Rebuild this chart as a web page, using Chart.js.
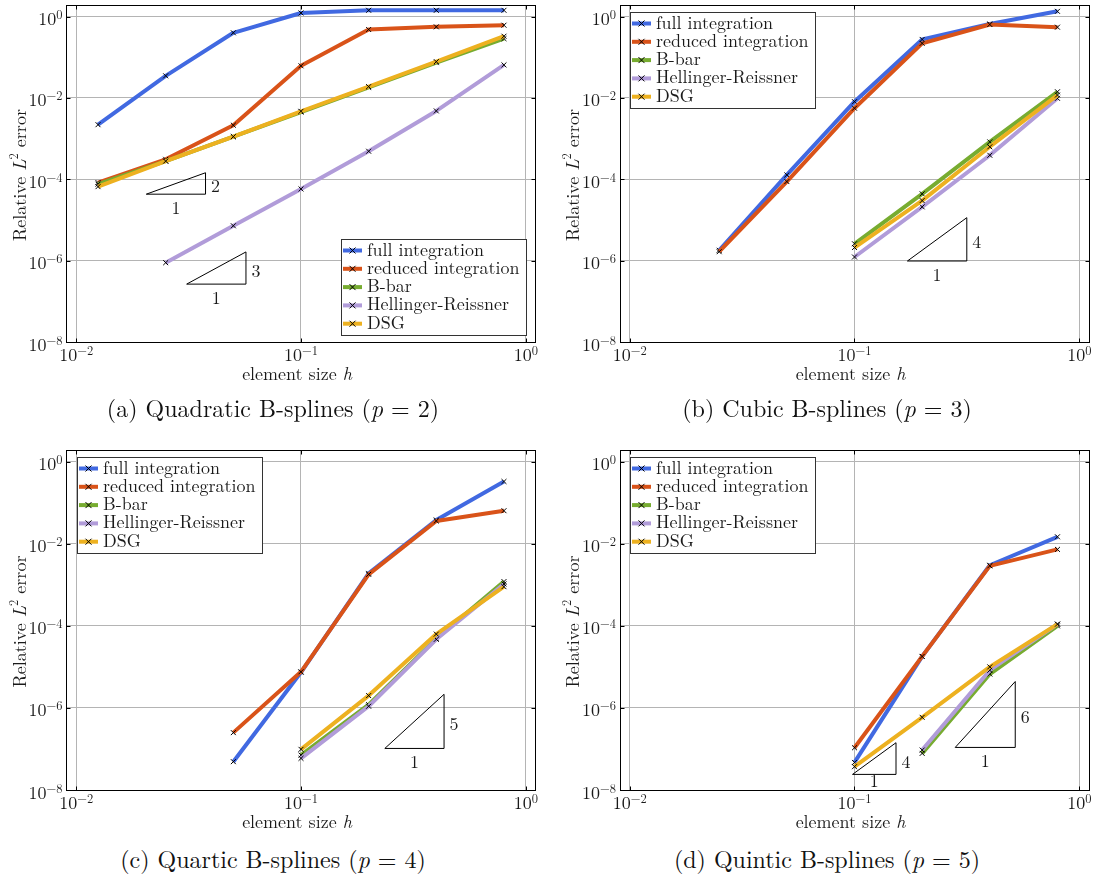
<!DOCTYPE html>
<html>
<head>
<meta charset="utf-8">
<script src="https://cdn.jsdelivr.net/npm/chart.js@4.4.0/dist/chart.umd.min.js"></script>
<style>
  body { margin: 0; background: #fff; width: 1101px; height: 877px; position: relative; overflow: hidden; font-family: "Latin Modern Roman", "Liberation Serif", serif; }
  canvas { position: absolute; }
  .cap { position: absolute; font-size: 24px; line-height: 24px; white-space: nowrap; transform: translateX(-50%); color: #111; }
</style>
</head>
<body>
<canvas id="pa" width="550" height="392" style="left:0;top:0"></canvas>
<canvas id="pb" width="551" height="392" style="left:550px;top:0"></canvas>
<canvas id="pc" width="550" height="400" style="left:0;top:440px"></canvas>
<canvas id="pd" width="551" height="400" style="left:550px;top:440px"></canvas>
<div class="cap" style="left:273px;top:395px">(a) Quadratic B-splines (<i>p</i> = 2)</div>
<div class="cap" style="left:827px;top:395px">(b) Cubic B-splines (<i>p</i> = 3)</div>
<div class="cap" style="left:273px;top:846px">(c) Quartic B-splines (<i>p</i> = 4)</div>
<div class="cap" style="left:827px;top:846px">(d) Quintic B-splines (<i>p</i> = 5)</div>
<script>
// axes
const X_TICKS = [0.01, 0.1, 1];
const Y_TICKS = [1, 1e-2, 1e-4, 1e-6, 1e-8];
const X_MIN = 0.00905, X_MAX = 1.105, Y_MIN = 1e-8, Y_MAX = 1.93;

const SERIES = ["full integration", "reduced integration", "B-bar", "Hellinger-Reissner", "DSG"];
const COLORS = ["#4169E1", "#D95319", "#77AC30", "#B19CD9", "#EDB120"];

// (a) quadratic
const hA = [0.0125, 0.025, 0.05, 0.1, 0.2, 0.4, 0.8];
const fullA = [2.2e-3, 0.035, 0.40, 1.23, 1.43, 1.43, 1.43];
const redA = [8.3e-5, 3.1e-4, 2.14e-3, 0.0617, 0.482, 0.56, 0.615];
const bbarA = [7.6e-5, 2.8e-4, 1.12e-3, 4.5e-3, 0.0182, 0.074, 0.288];
const hrA = [null, 8.9e-7, 7.2e-6, 5.8e-5, 4.9e-4, 4.8e-3, 0.065];
const dsgA = [6.6e-5, 2.8e-4, 1.12e-3, 4.7e-3, 0.019, 0.078, 0.33];

// (b) cubic
const hB = [0.025, 0.05, 0.1, 0.2, 0.4, 0.8];
const fullB = [1.8e-6, 1.28e-4, 8.1e-3, 0.275, 0.66, 1.35];
const redB = [1.66e-6, 8.8e-5, 5.6e-3, 0.22, 0.64, 0.55];
const bbarB = [null, null, 2.6e-6, 4.4e-5, 8.3e-4, 0.0142];
const hrB = [null, null, 1.23e-6, 2.1e-5, 3.9e-4, 9.8e-3];
const dsgB = [null, null, 2.1e-6, 3.0e-5, 6.3e-4, 0.0118];

// (c) quartic
const hC = [0.05, 0.1, 0.2, 0.4, 0.8];
const fullC = [4.9e-8, 7.4e-6, 1.9e-3, 0.038, 0.33];
const redC = [2.5e-7, 7.6e-6, 1.8e-3, 0.036, 0.064];
const bbarC = [null, 7.1e-8, 1.2e-6, 4.9e-5, 1.2e-3];
const hrC = [null, 5.9e-8, 1.1e-6, 4.7e-5, 1.05e-3];
const dsgC = [null, 9.8e-8, 2.0e-6, 6.3e-5, 9e-4];

// (d) quintic
const hD = [0.1, 0.2, 0.4, 0.8];
const fullD = [4.7e-8, 1.8e-5, 3.0e-3, 0.0148];
const redD = [1.07e-7, 1.8e-5, 2.9e-3, 7.3e-3];
const bbarD = [null, 7.8e-8, 6.7e-6, 1.0e-4];
const hrD = [null, 9.4e-8, 8.3e-6, 1.1e-4];
const dsgD = [3.7e-8, 5.9e-7, 1.0e-5, 1.1e-4];

// slope triangles (data coords): run x0->x1 at e0, rise to e1
const trisA = [
  { x0: 0.0205, x1: 0.0376, e0: 4.31e-5, e1: 1.45e-4, rise: "2" },
  { x0: 0.031, x1: 0.0569, e0: 2.65e-7, e1: 1.64e-6, rise: "3" },
];
const trisB = [{ x0: 0.172, x1: 0.316, e0: 9.8e-7, e1: 1.14e-5, rise: "4" }];
const trisC = [{ x0: 0.236, x1: 0.433, e0: 1.03e-7, e1: 2.15e-6, rise: "5" }];
const trisD = [
  { x0: 0.098, x1: 0.153, e0: 2.4e-8, e1: 1.42e-7, rise: "4", runDy: 7 },
  { x0: 0.2806, x1: 0.519, e0: 1.09e-7, e1: 4.4e-6, rise: "6" },
];

const GRID = "#b4b4b4";
const INK = "#1a1a1a";
const FAM = '"Latin Modern Roman", "Liberation Serif", serif';
const F = "18px " + FAM;
const FI = "italic 18px " + FAM;
const FS = "12.5px " + FAM;

function runs(ctx, list, x, y, align) {
  let w = 0;
  list.forEach((r) => { ctx.font = r.f; w += ctx.measureText(r.t).width; });
  let cx = align === "right" ? x - w : align === "center" ? x - w / 2 : x;
  list.forEach((r) => {
    ctx.font = r.f;
    ctx.fillText(r.t, cx, y + (r.dy || 0));
    cx += ctx.measureText(r.t).width;
  });
}

function pow10(v) {
  const e = Math.round(Math.log10(v));
  return [{ t: "10", f: F }, { t: e < 0 ? "\u2212" + (-e) : String(e), f: FS, dy: -6 }];
}

function deco(tris, corner) {
  return {
    id: "deco",
    afterDraw(chart) {
      const { ctx, chartArea: a, scales: { x, y } } = chart;
      ctx.save();
      ctx.strokeStyle = "#000";
      ctx.lineWidth = 1;
      const seg = (x1, y1, x2, y2) => { ctx.beginPath(); ctx.moveTo(x1, y1); ctx.lineTo(x2, y2); ctx.stroke(); };
      const L = Math.floor(a.left) + 0.5, R = Math.floor(a.right) + 0.5;
      const T = Math.floor(a.top) + 0.5, B = Math.floor(a.bottom) + 0.5;
      X_TICKS.forEach((v) => {
        const px = Math.round(x.getPixelForValue(v)) + 0.5;
        seg(px, B, px, B - 4); seg(px, T, px, T + 4);
      });
      Y_TICKS.forEach((v) => {
        const py = Math.round(y.getPixelForValue(v)) + 0.5;
        seg(L, py, L + 4, py); seg(R, py, R - 4, py);
      });
      ctx.strokeRect(L, T, R - L, B - T);

      ctx.fillStyle = INK;
      ctx.textBaseline = "alphabetic";
      X_TICKS.forEach((v) => runs(ctx, pow10(v), x.getPixelForValue(v), a.bottom + 18.5, "center"));
      Y_TICKS.forEach((v) => runs(ctx, pow10(v), a.left - 4, y.getPixelForValue(v) + 8.5, "right"));

      runs(ctx, [{ t: "element size ", f: F }, { t: "h", f: FI }], (a.left + a.right) / 2 - 4, a.bottom + 38, "center");
      ctx.save();
      ctx.translate(a.left - 41, (a.top + a.bottom) / 2 + 1.5);
      ctx.rotate(-Math.PI / 2);
      runs(ctx, [{ t: "Relative ", f: F }, { t: "L", f: FI }, { t: "2", f: FS, dy: -8 }, { t: " error", f: F }], 0, 0, "center");
      ctx.restore();

      // slope labels
      tris.forEach((t) => {
        const x0 = x.getPixelForValue(t.x0), x1 = x.getPixelForValue(t.x1);
        const y0 = y.getPixelForValue(t.e0), y1 = y.getPixelForValue(t.e1);
        runs(ctx, [{ t: t.rise, f: F }], x1 + 10, (y0 + y1) / 2 + 9, "center");
        runs(ctx, [{ t: "1", f: F }], (x0 + x1) / 2, y0 + (t.runDy || 13.5) + 6, "center");
      });

      // legend
      ctx.font = F;
      const tw = Math.max(...SERIES.map((s) => ctx.measureText(s).width));
      const bw = Math.round(26 + tw + 6), bh = 96;
      let bx, by;
      if (corner === "br") { bx = Math.round(a.right - 10 - bw); by = Math.round(a.bottom - 7 - bh); }
      else { bx = Math.round(a.left + 10); by = Math.round(a.top + 6.5); }
      ctx.fillStyle = "#fff";
      ctx.fillRect(bx, by, bw, bh);
      ctx.strokeStyle = "#333";
      ctx.strokeRect(bx + 0.5, by + 0.5, bw, bh);
      SERIES.forEach((s, i) => {
        const cy = by + 11.5 + i * 18.3;
        ctx.strokeStyle = COLORS[i];
        ctx.lineWidth = 4;
        seg(bx + 2, cy, bx + 21, cy);
        ctx.strokeStyle = "#000";
        ctx.lineWidth = 1;
        seg(bx + 8.5, cy - 3, bx + 14.5, cy + 3);
        seg(bx + 8.5, cy + 3, bx + 14.5, cy - 3);
        ctx.fillStyle = INK;
        ctx.font = F;
        ctx.fillText(s, bx + 26, cy + 5);
      });
      ctx.restore();
    },
  };
}

function panel(id, h, series, tris, corner, lay) {
  const datasets = series.map((vals, i) => ({
    label: SERIES[i],
    data: h.map((hx, k) => ({ x: hx, y: vals[k] })).filter((p) => p.y != null),
    borderColor: COLORS[i],
    backgroundColor: COLORS[i],
    borderWidth: 4,
    borderJoinStyle: "round",
    pointStyle: "crossRot",
    pointRadius: 3.5,
    pointBorderColor: "#000",
    pointBackgroundColor: "#000",
    pointBorderWidth: 1,
    tension: 0,
    order: SERIES.length - i,
  }));
  tris.forEach((t) => datasets.push({
    data: [{ x: t.x0, y: t.e0 }, { x: t.x1, y: t.e0 }, { x: t.x1, y: t.e1 }, { x: t.x0, y: t.e0 }],
    borderColor: "#000",
    borderWidth: 1,
    pointRadius: 0,
    tension: 0,
    order: 0,
  }));
  new Chart(document.getElementById(id), {
    type: "line",
    data: { datasets },
    options: {
      responsive: false,
      animation: false,
      layout: { padding: { left: 0, top: lay.top, right: lay.right, bottom: 0 } },
      plugins: { legend: { display: false }, tooltip: { enabled: false } },
      scales: {
        x: {
          type: "logarithmic", min: X_MIN, max: X_MAX, bounds: "data",
          ticks: { display: false },
          grid: { color: GRID, lineWidth: 1, drawTicks: false },
          border: { display: false },
          afterBuildTicks: (s) => { s.ticks = X_TICKS.map((v) => ({ value: v })); },
          afterFit: (s) => { s.height = lay.xh; },
        },
        y: {
          type: "logarithmic", min: Y_MIN, max: Y_MAX, bounds: "data",
          ticks: { display: false },
          grid: { color: GRID, lineWidth: 1, drawTicks: false },
          border: { display: false },
          afterBuildTicks: (s) => { s.ticks = Y_TICKS.map((v) => ({ value: v })); },
          afterFit: (s) => { s.width = lay.yw; },
        },
      },
    },
    plugins: [deco(tris, corner)],
  });
}

panel("pa", hA, [fullA, redA, bbarA, hrA, dsgA], trisA, "br", { top: 2, right: 14.5, xh: 50, yw: 66.5 });
panel("pb", hB, [fullB, redB, bbarB, hrB, dsgB], trisB, "tl", { top: 2, right: 12, xh: 50, yw: 70 });
panel("pc", hC, [fullC, redC, bbarC, hrC, dsgC], trisC, "tl", { top: 10, right: 14.5, xh: 50, yw: 66.5 });
panel("pd", hD, [fullD, redD, bbarD, hrD, dsgD], trisD, "tl", { top: 10, right: 12, xh: 50, yw: 70 });
</script>
</body>
</html>
